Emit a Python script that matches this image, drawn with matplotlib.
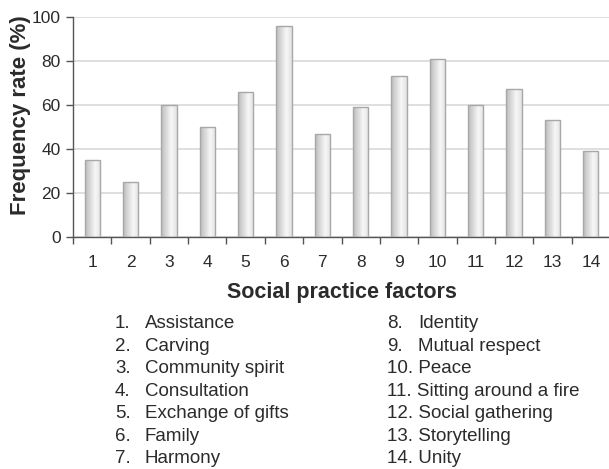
import numpy as np
import matplotlib
matplotlib.use("Agg")
import matplotlib.pyplot as plt
from matplotlib.colors import LinearSegmentedColormap

categories = [str(i) for i in range(1, 15)]
values = [35, 25, 60, 50, 66, 96, 47, 59, 73, 81, 60, 67, 53, 39]
factor_names = ["Assistance", "Carving", "Community spirit", "Consultation",
                "Exchange of gifts", "Family", "Harmony", "Identity",
                "Mutual respect", "Peace", "Sitting around a fire",
                "Social gathering", "Storytelling", "Unity"]
yticks = [0, 20, 40, 60, 80, 100]

plt.rcParams['font.family'] = ['Liberation Sans', 'DejaVu Sans']
txt = '#2b2b2b'

W, H = 609, 469
fig = plt.figure(figsize=(W / 100, H / 100), dpi=100)
ax = fig.add_axes([73 / W, 1 - 237.3 / H, (610 - 73) / W, (237.3 - 16.7) / H])

x = np.arange(1, len(values) + 1)
bars = ax.bar(x, values, width=0.40, facecolor='none', edgecolor='#a8a8a8',
              linewidth=1.0, zorder=3)

cmap = LinearSegmentedColormap.from_list(
    'g', [(0, '#bcbcbc'), (0.65, '#f7f7f7'), (1.0, '#e2e2e2')])
grad = np.linspace(0, 1, 64).reshape(1, -1)
for p in bars:
    x0, w, h = p.get_x(), p.get_width(), p.get_height()
    im = ax.imshow(grad, cmap=cmap, extent=[x0, x0 + w, 0, h], aspect='auto',
                   origin='lower', zorder=2, interpolation='bilinear')
    im.set_clip_path(p)

ax.set_xlim(0.5, 14.5)
ax.set_ylim(0, 100)
ax.set_yticks(yticks)
ax.set_xticks(x)
ax.set_xticklabels(categories)
ax.set_xticks(np.arange(0.5, 15, 1), minor=True)
ax.tick_params(axis='x', which='major', length=0, pad=13, labelsize=12.5, labelcolor=txt)
ax.tick_params(axis='x', which='minor', length=5, width=1, color='#555555', direction='out')
ax.tick_params(axis='y', length=5, width=1, color='#555555', labelsize=12.5,
               labelcolor=txt, pad=4)
ax.grid(axis='y', color='#d9d9d9', linewidth=1.2, zorder=0)
ax.set_axisbelow(True)
for s in ['top', 'right']:
    ax.spines[s].set_visible(False)
for s in ['left', 'bottom']:
    ax.spines[s].set_color('#555555')
    ax.spines[s].set_linewidth(1.0)
ax.set_xlim(0.5, 14.5)

fig.text(21 / W, 1 - 115 / H, 'Frequency rate (%)', rotation=90, ha='center',
         va='center', fontsize=16, fontweight='bold', color=txt)
fig.text(342 / W, 1 - 292 / H, 'Social practice factors', ha='center',
         va='center', fontsize=15.5, fontweight='bold', color=txt)

base0 = 328
step = 22.5
for i, name in enumerate(factor_names):
    num = i + 1
    if i < 7:
        xn, xt, row = 115, 145, i
    else:
        xn, xt, row = 387, 418, i - 7
    yb = 1 - (base0 + row * step) / H
    if num < 10:
        fig.text(xn / W, yb, f'{num}.', ha='left', va='baseline', fontsize=13.5, color=txt)
        fig.text(xt / W, yb, name, ha='left', va='baseline', fontsize=13.5, color=txt)
    else:
        fig.text(xn / W, yb, f'{num}. {name}', ha='left', va='baseline', fontsize=13.5, color=txt)

fig.savefig('out.png', dpi=100)
